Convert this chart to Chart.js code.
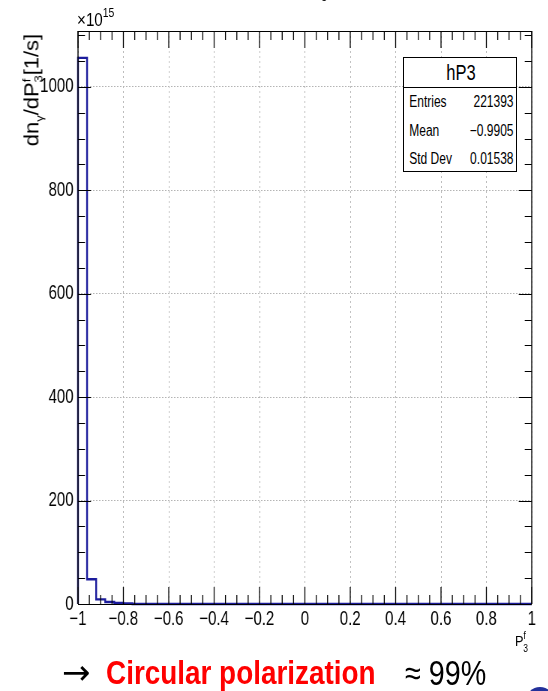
<!DOCTYPE html>
<html>
<head>
<meta charset="utf-8">
<script src="https://cdn.jsdelivr.net/npm/chart.js@4"></script>
<style>
  html, body { margin: 0; padding: 0; background: #fff; }
  body { width: 548px; height: 691px; position: relative; overflow: hidden;
         font-family: "Liberation Sans", Arial, sans-serif; color: #000; }
  /* the plot is drawn wide and squeezed, like the picture pasted on the slide */
  #wrap { position: absolute; left: 0; top: 0; width: 731px; height: 691px;
          transform: scaleX(0.75); transform-origin: 0 0; }
  .abs { position: absolute; white-space: nowrap; line-height: 1; transform-origin: 0 0; }
  sup, sub { line-height: 0; }
  #statbox { position: absolute; left: 403px; top: 57px; width: 114px; height: 115px;
             border: 1px solid #000; background: #fff; box-sizing: border-box; overflow: hidden; }
  #statbox .in { position: absolute; left: 0; top: 0; width: 152px; height: 113px;
                 transform: scaleX(0.75); transform-origin: 0 0; font-size: 16px; }
  #statbox .hd { position: absolute; left: 0; right: 0; top: 0; height: 29px; border-bottom: 1px solid #000;
                 text-align: center; font-size: 22px; line-height: 30px; }
  #statbox .row { position: absolute; left: 7px; right: 6px; height: 18px; line-height: 18px; }
  #statbox .row span:last-child { position: absolute; right: 0; }
  .cap { position: absolute; top: 655px; font-size: 34px; line-height: 1; white-space: nowrap;
         transform: scaleX(0.82); transform-origin: 0 0; }
</style>
</head>
<body>
<div id="wrap"><canvas id="c"></canvas></div>

<div class="abs" style="left:321px;top:-11px;font-size:14px;transform:scaleX(0.8)">3</div>
<div class="abs" style="left:77px;top:10px;font-size:19px;transform:scaleX(0.8)">×10<sup style="font-size:13px;position:relative;top:-2px">15</sup></div>
<div class="abs" style="left:-48px;top:78px;width:160px;height:24px;font-size:22px;line-height:24px;text-align:center;transform:rotate(-90deg) scaleY(0.9);transform-origin:50% 50%">dn<sub style="font-size:13px">γ</sub>/dP<sup style="font-size:13px">f</sup><sub style="font-size:13px;margin-left:-4px">3</sub>[1/s]</div>
<div class="abs" style="left:515px;top:633px;font-size:15px;transform:scaleX(0.85)">P<sup style="font-size:10px;position:relative;top:-1px">f</sup><sub style="font-size:10px;margin-left:-3px;position:relative;top:2px">3</sub></div>

<div id="statbox"><div class="in">
  <div class="hd">hP3</div>
  <div class="row" style="top:35px"><span>Entries</span><span>221393</span></div>
  <div class="row" style="top:64px"><span>Mean</span><span>−0.9905</span></div>
  <div class="row" style="top:92px"><span>Std Dev</span><span>0.01538</span></div>
</div></div>

<div class="abs" style="left:62px;top:655px;font-size:34px;font-family:'DejaVu Sans',sans-serif">→</div>
<div class="cap" style="left:106px;color:#f00;font-weight:bold">Circular polarization</div>
<div class="cap" style="left:405px;font-size:35px">≈ 99%</div>
<div style="position:absolute;left:526px;top:687px;width:28px;height:28px;border-radius:50%;background:#23309a"></div>

<script>
// histogram hP3, 50 bins of width 0.04 on [-1, 1], values in units of 1e15
const X_MIN = -1;
const X_MAX = 1;
const BIN_WIDTH = 0.04;
const binValues = [1056, 48, 9, 4, 2, 1, 0, 0, 0, 0,
                   0, 0, 0, 0, 0, 0, 0, 0, 0, 0,
                   0, 0, 0, 0, 0, 0, 0, 0, 0, 0,
                   0, 0, 0, 0, 0, 0, 0, 0, 0, 0,
                   0, 0, 0, 0, 0, 0, 0, 0, 0, 0];
const Y_MAX = 1108;
const xTicks = [-1, -0.8, -0.6, -0.4, -0.2, 0, 0.2, 0.4, 0.6, 0.8, 1];
const yTicks = [0, 200, 400, 600, 800, 1000];

const SQUEEZE = 0.75; // horizontal squeeze of the canvas (see #wrap)

// step outline: left edge of each bin, closed at x = 1
const points = [{ x: X_MIN, y: 0 }];
binValues.forEach((v, i) => points.push({ x: X_MIN + i * BIN_WIDTH, y: v }));
points.push({ x: X_MAX, y: binValues[binValues.length - 1] });

const fmt = v => {
  const r = Math.round(v * 10) / 10;
  return (r < 0 ? '−' : '') + String(Math.abs(r));
};

// ROOT-like frame with inward ticks on all four sides
const frame = {
  id: 'frame',
  afterDatasetsDraw(chart) {
    const { ctx, chartArea: a, scales: { x, y } } = chart;
    ctx.save();
    ctx.strokeStyle = '#000';
    ctx.lineWidth = 1.3;
    ctx.beginPath();
    for (let k = 0; k <= 40; k++) {
      const v = X_MIN + k * 0.05;
      const px = x.getPixelForValue(v);
      const len = k % 4 === 0 ? 17 : 9;
      ctx.moveTo(px, a.bottom); ctx.lineTo(px, a.bottom - len);
      ctx.moveTo(px, a.top); ctx.lineTo(px, a.top + len);
    }
    ctx.stroke();
    ctx.lineWidth = 1;
    ctx.beginPath();
    for (let v = 0; v <= Y_MAX; v += 50) {
      const py = Math.round(y.getPixelForValue(v)) + 0.5;
      const len = (v % 200 === 0 ? 13 : 7) / SQUEEZE;
      ctx.moveTo(a.left, py); ctx.lineTo(a.left + len, py);
      ctx.moveTo(a.right, py); ctx.lineTo(a.right - len, py);
    }
    ctx.stroke();
    ctx.beginPath();
    ctx.moveTo(a.left, Math.round(a.top) + 0.5); ctx.lineTo(a.right, Math.round(a.top) + 0.5);
    ctx.moveTo(a.left, Math.round(a.bottom) + 0.5); ctx.lineTo(a.right, Math.round(a.bottom) + 0.5);
    ctx.stroke();
    ctx.lineWidth = 1.4;
    ctx.beginPath();
    ctx.moveTo(a.left, a.top); ctx.lineTo(a.left, a.bottom);
    ctx.moveTo(a.right, a.top); ctx.lineTo(a.right, a.bottom);
    ctx.stroke();
    ctx.restore();
  }
};

const tickFont = { family: '"Liberation Sans", Arial, sans-serif', size: 20 };

new Chart(document.getElementById('c'), {
  type: 'line',
  data: {
    datasets: [{
      label: 'hP3',
      data: points,
      stepped: 'before',
      borderColor: '#1c1c9c',
      borderWidth: 2.4,
      pointRadius: 0,
      fill: false,
      clip: 4,
    }]
  },
  options: {
    responsive: true,
    maintainAspectRatio: false,
    animation: false,
    layout: { padding: { left: 0, top: 31, right: 22, bottom: 0 } },
    plugins: { legend: { display: false }, tooltip: { enabled: false } },
    scales: {
      x: {
        type: 'linear', min: X_MIN, max: X_MAX,
        afterBuildTicks: s => { s.ticks = xTicks.map(v => ({ value: v })); },
        afterFit: s => { s.height = 87; },
        ticks: { color: '#000', font: tickFont, padding: 3, maxRotation: 0, autoSkip: false, callback: v => fmt(v) },
        grid: { color: '#b4b4b4', lineWidth: 1, drawTicks: false },
        border: { display: false, dash: [2, 3] },
      },
      y: {
        type: 'linear', min: 0, max: Y_MAX,
        afterBuildTicks: s => { s.ticks = yTicks.map(v => ({ value: v })); },
        afterFit: s => { s.width = 104; },
        ticks: { color: '#000', font: tickFont, padding: 6, callback: v => String(v) },
        grid: { color: '#b4b4b4', lineWidth: 1, drawTicks: false },
        border: { display: false, dash: [2, 2] },
      }
    }
  },
  plugins: [frame]
});
</script>
</body>
</html>
